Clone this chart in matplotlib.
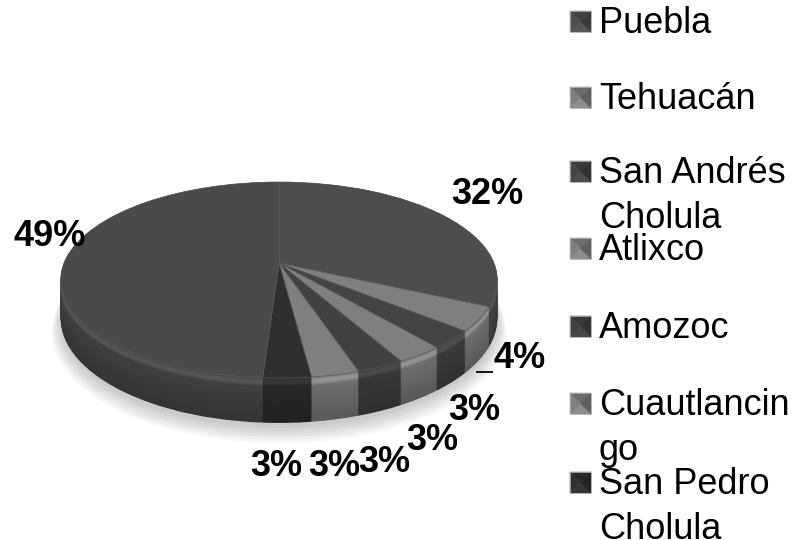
import matplotlib
matplotlib.use('Agg')
import matplotlib.pyplot as plt
import numpy as np
from matplotlib.lines import Line2D
from matplotlib.patches import Polygon
from matplotlib.colors import to_rgb
from matplotlib.transforms import Transform

# ---- data ----
categories = ["Puebla", "Tehuacán", "San Andrés Cholula", "Atlixco", "Amozoc",
              "Cuautlancingo", "San Pedro Cholula", "Otros"]
legend_labels = ["Puebla", "Tehuacán", "San Andrés\nCholula", "Atlixco", "Amozoc",
                 "Cuautlancin\ngo", "San Pedro\nCholula"]
values = [32, 4, 3, 3, 3, 3, 3, 49]
top_colors = ['#4d4d4d', '#7f7f7f', '#444444', '#7f7f7f', '#414141', '#7f7f7f', '#2f2f2f', '#4a4a4a']

# ---- layout (pixels) ----
W, H = 798, 540
cx, cy = 279, 263          # apex of the pie (pixels from top-left)
SX, SY, P = 215.0, 95.1, 0.174   # perspective ellipse parameters
DEPTH = 37.0

class Persp(Transform):
    """Tilted-disc perspective: unit circle -> ellipse, with vertical drop d."""
    input_dims = 2
    output_dims = 2
    is_separable = False
    has_inverse = False

    def __init__(self, d=0.0, sx=SX, sy=SY, p=P):
        super().__init__()
        self.d, self.sx, self.sy, self.p = d, sx, sy, p

    def transform_non_affine(self, values):
        v = np.asarray(values, dtype=float)
        x, y = v[:, 0], v[:, 1]
        den = 1.0 + self.p * y
        return np.column_stack([self.sx * x / den, (self.sy * y - self.d) / den])

fig = plt.figure(figsize=(W / 100, H / 100), dpi=100)
ax = fig.add_axes([0, 0, 1, 1])
ax.axis('off')

def scaled(c, f):
    r, g, b = to_rgb(c)
    return tuple(min(1.0, max(0.0, ch * f)) for ch in (r, g, b))

def draw_pie(colors, d, radius=1.0, lw=0.0, ec='none'):
    wedges, _ = ax.pie(values, colors=colors, startangle=90, counterclock=False,
                       radius=radius, wedgeprops=dict(linewidth=lw, edgecolor=ec))
    T = Persp(d) + ax.transData
    for w in wedges:
        w.set_transform(T)
    return wedges

# soft shadow under the pie
for i in range(6):
    draw_pie([(0, 0, 0, 0.035)] * len(values), DEPTH + 4 + i * 1.5, radius=1.0 + 0.008 * i)

# side of the 3D disc
n = 46
for j, d in enumerate(np.linspace(DEPTH, 0.0, n)):
    t = j / (n - 1)            # 0 = bottom, 1 = top
    if t > 0.80:
        f = 0.86 + 0.30 * np.sin((t - 0.80) / 0.20 * np.pi)
    else:
        f = 0.70 + 0.16 * t / 0.80
    draw_pie([scaled(c, f) for c in top_colors], d)

# top surface
draw_pie(top_colors, 0.0, lw=0.5, ec='#5a5a5a')

ax.set_aspect('auto')
ax.set_xlim(-cx, W - cx)
ax.set_ylim(-(H - cy), cy)

# ---- percentage labels ----
label_pos = [(487, 195), (520, 359), (474, 411), (432, 440), (384, 462),
             (334, 467), (276, 467), (50, 237)]
for v, (px, py) in zip(values, label_pos):
    fig.text(px / W, 1 - py / H, f"{v}%", ha='center', va='center',
             fontsize=26, fontweight='bold', family='Liberation Sans', color='black')
fig.add_artist(Line2D([477 / W, 492 / W], [1 - 372 / H, 1 - 372 / H],
                      color='black', lw=1.3))

# ---- legend ----
legend_baselines = [33, 109, 183, 260, 338, 415, 494]
line_step = 45
for lab, col, base in zip(legend_labels, top_colors, legend_baselines):
    x0, x1 = 570 / W, 591 / W
    y0, y1 = 1 - (base - 1) / H, 1 - (base - 22) / H
    xm, ym = (x0 + x1) / 2, (y0 + y1) / 2
    tris = [([(x0, y1), (x1, y1), (xm, ym)], 0.85),   # top
            ([(x0, y0), (x1, y0), (xm, ym)], 1.12),   # bottom
            ([(x0, y0), (x0, y1), (xm, ym)], 1.00),   # left
            ([(x1, y0), (x1, y1), (xm, ym)], 0.75)]   # right
    for pts, f in tris:
        fig.add_artist(Polygon(pts, closed=True, transform=fig.transFigure,
                               facecolor=scaled(col, f), edgecolor=scaled(col, f), lw=0.3))
    fig.add_artist(Polygon([(x0, y0), (x1, y0), (x1, y1), (x0, y1)], closed=True,
                           transform=fig.transFigure, facecolor='none',
                           edgecolor='#b0b0b0', lw=0.6))
    for i, line in enumerate(lab.split('\n')):
        fig.text(599 / W, 1 - (base + i * line_step) / H, line, ha='left', va='baseline',
                 fontsize=26, family='Liberation Sans', color='black')

fig.savefig('out.png', dpi=100)
